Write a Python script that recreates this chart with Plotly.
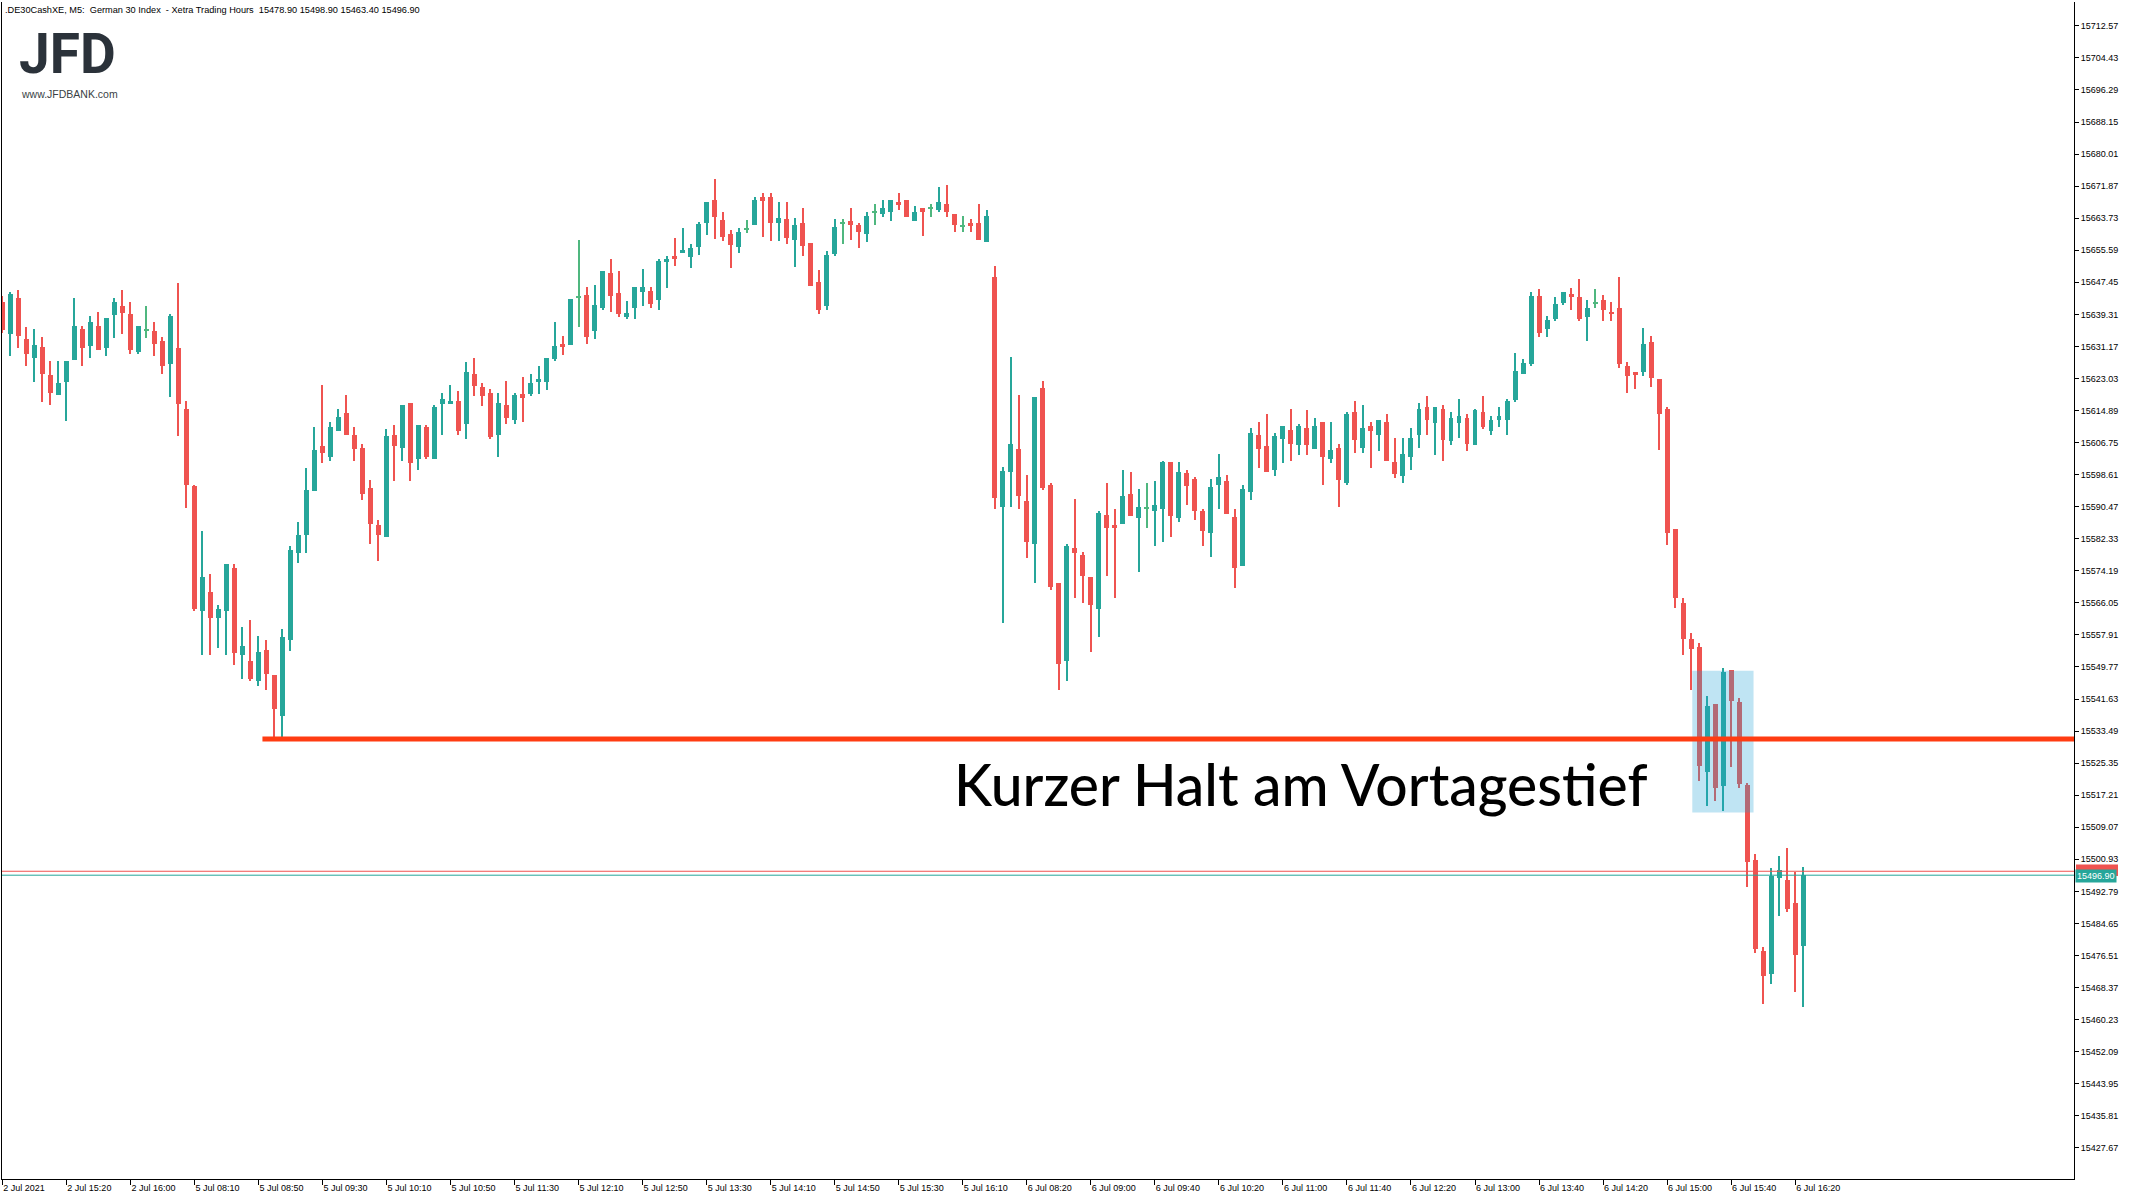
import plotly.graph_objects as go

# ---------------- data (M5 candles, 2 Jul 14:40 .. 6 Jul 16:25) ----------------
opens = [
15642.4,15634.3,15643.4,15633.0,15628.2,15630.9,15623.8,15618.8,15622.1,15627.7,
15635.5,15631.3,15636.3,15630.8,15639.2,15641.4,15639.3,15629.8,15635.4,15635.0,
15632.5,15626.7,15630.7,15615.2,15595.6,15563.9,15568.9,15562.3,15563.9,15575.0,
15552.7,15551.2,15546.1,15554.2,15547.8,15537.4,15556.5,15578.6,15583.4,15594.4,
15605.8,15603.0,15609.8,15614.2,15608.8,15605.3,15595.1,15585.7,15582.9,15608.8,
15605.5,15616.7,15602.5,15610.6,15602.5,15616.5,15616.5,15617.2,15611.4,15624.1,
15620.8,15619.3,15608.6,15616.2,15612.4,15619.2,15619.0,15622.1,15622.1,15627.9,
15631.7,15631.5,15643.7,15644.2,15635.0,15640.9,15649.7,15644.7,15638.6,15640.9,
15644.9,15645.2,15642.9,15652.5,15654.1,15654.8,15653.8,15656.3,15662.5,15668.3,
15663.2,15659.7,15656.3,15661.1,15661.9,15669.1,15669.1,15662.5,15663.4,15658.1,
15662.4,15657.4,15647.6,15641.4,15654.7,15662.4,15662.9,15661.9,15659.7,15665.3,
15664.7,15665.2,15667.9,15668.4,15663.1,15666.4,15666.3,15665.7,15667.4,15664.9,
15661.8,15662.4,15662.4,15657.6,15648.8,15590.5,15599.3,15605.0,15592.0,15581.0,
15620.5,15595.9,15571.0,15551.2,15579.9,15578.3,15572.7,15564.6,15588.3,15585.7,
15586.0,15593.8,15587.5,15590.2,15589.5,15590.0,15601.7,15587.5,15598.9,15597.4,
15589.3,15583.7,15596.1,15596.9,15587.8,15575.5,15594.1,15608.8,15605.8,15599.7,
15607.6,15609.9,15606.1,15610.4,15605.0,15611.9,15602.5,15605.3,15596.6,15614.4,
15605.5,15610.9,15608.6,15611.9,15601.7,15598.2,15603.0,15608.6,15615.7,15611.6,
15615.2,15607.1,15611.6,15612.9,15606.1,15614.4,15609.6,15612.6,15612.6,15617.5,
15624.1,15626.6,15643.9,15635.5,15638.1,15642.3,15644.4,15643.6,15638.7,15642.1,
15642.9,15639.8,15640.9,15626.1,15624.6,15624.6,15632.2,15622.8,15615.2,15584.7,
15565.9,15556.8,15554.9,15523.2,15540.3,15519.6,15549.1,15540.8,15519.7,15500.8,
15477.7,15471.8,15496.1,15495.6,15489.8,15478.9,
]
highs = [
15644.0,15644.9,15645.4,15636.0,15635.5,15633.5,15627.4,15627.4,15627.4,15643.4,
15636.3,15638.8,15639.8,15638.3,15643.4,15645.4,15642.4,15636.3,15641.4,15637.3,
15633.5,15639.3,15647.2,15617.2,15596.1,15584.4,15573.5,15565.6,15576.0,15576.0,
15560.0,15561.6,15557.7,15556.7,15547.8,15559.3,15580.6,15586.7,15600.2,15610.6,
15621.3,15612.1,15615.2,15618.8,15610.6,15606.3,15597.2,15587.2,15610.1,15611.1,
15616.2,15616.7,15611.1,15611.1,15616.2,15619.3,15621.3,15619.8,15627.1,15628.2,
15621.8,15620.3,15619.3,15622.3,15619.3,15623.3,15624.1,15626.1,15628.1,15637.3,
15633.7,15643.1,15658.1,15646.2,15646.7,15650.3,15653.3,15650.3,15642.6,15646.2,
15650.8,15646.2,15653.3,15654.1,15658.6,15661.2,15657.1,15662.7,15667.8,15673.6,
15665.2,15660.7,15661.2,15663.2,15669.1,15670.1,15670.1,15667.8,15667.9,15663.9,
15666.4,15657.4,15650.6,15655.3,15663.4,15663.4,15666.4,15662.4,15665.4,15667.4,
15668.4,15668.4,15670.2,15668.4,15666.9,15666.4,15667.4,15671.7,15672.2,15664.9,
15664.4,15663.4,15667.4,15665.9,15651.6,15600.5,15628.6,15618.8,15598.5,15618.4,
15622.3,15596.4,15571.0,15580.9,15592.3,15578.9,15572.7,15589.3,15596.4,15589.8,
15599.9,15599.4,15594.9,15596.4,15596.9,15602.2,15601.7,15601.7,15599.9,15597.9,
15589.8,15597.4,15603.8,15598.4,15589.8,15595.9,15610.4,15611.9,15613.9,15609.3,
15610.9,15615.2,15611.4,15614.9,15612.9,15611.9,15611.9,15606.3,15614.4,15617.2,
15616.2,15611.9,15612.4,15613.9,15607.8,15607.8,15610.4,15616.7,15618.7,15615.7,
15616.2,15614.4,15617.7,15613.9,15615.2,15618.7,15613.4,15615.7,15617.7,15629.4,
15627.9,15644.9,15645.7,15638.8,15643.6,15644.9,15646.1,15648.3,15642.9,15645.7,
15644.1,15642.4,15648.9,15627.3,15624.6,15635.8,15633.7,15622.8,15615.7,15584.7,
15567.4,15558.4,15555.9,15542.3,15540.3,15549.6,15549.1,15541.8,15520.2,15502.3,
15478.7,15498.7,15501.9,15503.9,15497.7,15498.9,
]
lows = [
15634.5,15628.7,15630.8,15626.2,15622.1,15617.0,15616.3,15618.8,15612.2,15627.7,
15626.2,15628.2,15630.3,15628.7,15633.3,15634.3,15629.2,15629.2,15633.3,15628.7,
15624.2,15618.3,15608.4,15590.1,15563.9,15552.7,15552.7,15554.7,15552.7,15550.4,
15546.8,15546.3,15545.0,15544.0,15532.1,15532.1,15553.9,15576.1,15578.8,15594.4,
15601.5,15602.0,15609.8,15608.6,15602.0,15592.1,15580.9,15576.8,15582.9,15596.9,
15602.0,15596.9,15599.9,15602.5,15602.5,15608.6,15616.5,15608.6,15607.6,15618.5,
15616.0,15607.6,15603.0,15611.4,15611.4,15611.9,15618.5,15619.0,15620.0,15627.4,
15628.9,15631.5,15636.0,15631.9,15633.0,15640.3,15639.8,15638.6,15638.1,15638.1,
15641.4,15640.9,15640.3,15645.9,15651.5,15654.8,15651.0,15654.3,15659.4,15658.4,
15657.9,15651.0,15654.8,15659.9,15661.9,15658.9,15657.9,15657.9,15657.1,15651.4,
15654.1,15646.4,15639.3,15640.3,15654.1,15657.1,15658.1,15656.1,15657.6,15662.1,
15664.1,15663.1,15665.7,15664.1,15663.1,15659.1,15664.1,15665.2,15664.1,15660.2,
15660.2,15660.2,15658.1,15657.6,15590.0,15561.0,15590.5,15590.0,15577.5,15571.0,
15594.7,15569.2,15543.8,15546.1,15567.2,15566.1,15553.7,15557.5,15573.0,15567.2,
15586.0,15588.0,15574.0,15585.0,15580.6,15581.6,15582.7,15586.5,15591.0,15587.0,
15580.6,15577.6,15590.0,15588.5,15569.7,15575.5,15592.1,15600.4,15599.2,15598.2,
15601.5,15602.0,15603.5,15603.5,15605.0,15596.1,15601.5,15590.5,15596.1,15604.0,
15604.0,15600.4,15604.5,15602.0,15597.7,15596.6,15599.9,15605.5,15608.6,15603.5,
15602.0,15606.1,15608.0,15604.5,15606.1,15610.1,15608.6,15610.6,15608.6,15617.0,
15624.1,15626.1,15633.5,15633.5,15637.6,15641.8,15640.3,15637.7,15632.6,15640.8,
15637.7,15637.7,15625.7,15619.4,15620.3,15623.6,15620.9,15604.8,15580.7,15564.7,
15552.7,15544.0,15520.9,15514.4,15515.7,15513.3,15524.3,15519.1,15493.8,15477.1,
15464.1,15469.3,15486.6,15487.6,15467.3,15463.4,
]
closes = [
15635.3,15644.4,15633.8,15629.3,15631.5,15624.2,15619.3,15621.8,15627.4,15636.3,
15630.8,15637.3,15630.3,15638.3,15642.4,15639.7,15630.3,15636.3,15635.4,15631.8,
15626.2,15638.8,15616.5,15596.0,15564.4,15572.5,15562.3,15564.6,15576.0,15553.2,
15555.0,15546.8,15553.7,15548.1,15539.0,15557.3,15579.6,15583.2,15594.6,15604.8,
15604.0,15610.6,15613.2,15608.8,15605.0,15593.8,15586.0,15583.4,15608.3,15606.0,
15616.2,15601.5,15611.1,15603.0,15615.7,15617.7,15617.2,15609.8,15624.6,15621.0,
15618.5,15608.1,15616.7,15612.9,15618.8,15618.0,15621.8,15622.8,15628.1,15631.2,
15630.9,15643.1,15643.7,15633.5,15641.6,15650.3,15643.9,15639.3,15639.6,15646.2,
15646.2,15641.9,15652.8,15653.3,15653.6,15655.6,15656.1,15662.2,15667.8,15664.0,
15658.9,15656.9,15660.2,15661.1,15668.3,15668.0,15662.5,15663.7,15658.6,15661.9,
15656.6,15646.4,15640.3,15654.4,15661.4,15662.4,15662.1,15660.2,15664.4,15665.3,
15666.4,15668.4,15667.1,15664.1,15665.4,15665.2,15666.3,15667.9,15665.2,15662.1,
15661.8,15661.7,15658.1,15664.4,15592.8,15599.5,15606.5,15593.3,15581.5,15618.4,
15595.2,15570.2,15550.6,15580.4,15578.6,15573.0,15565.6,15588.8,15585.0,15585.0,
15593.3,15588.0,15590.3,15590.2,15590.8,15601.7,15588.0,15599.4,15595.6,15589.5,
15584.2,15595.4,15597.9,15588.5,15575.0,15594.9,15609.3,15605.0,15599.2,15608.3,
15610.9,15606.5,15610.9,15606.1,15610.9,15603.0,15604.8,15597.2,15613.9,15607.5,
15610.4,15609.6,15612.4,15602.0,15598.7,15603.8,15607.8,15615.2,15612.6,15615.7,
15607.5,15612.9,15613.4,15606.5,15614.9,15610.6,15612.4,15613.4,15617.2,15624.8,
15626.9,15643.9,15634.5,15637.8,15641.9,15644.9,15643.9,15638.2,15640.9,15642.1,
15640.3,15639.4,15626.6,15623.6,15624.1,15631.7,15623.1,15614.1,15583.9,15567.3,
15557.0,15554.4,15524.6,15539.8,15519.1,15548.6,15541.2,15520.1,15500.2,15478.1,
15471.3,15496.6,15498.3,15488.3,15476.6,15496.9,
]

tick_positions = list(range(0, 226, 8))
x_tick_labels = [
    "2 Jul 2021", "2 Jul 15:20", "2 Jul 16:00", "5 Jul 08:10", "5 Jul 08:50",
    "5 Jul 09:30", "5 Jul 10:10", "5 Jul 10:50", "5 Jul 11:30", "5 Jul 12:10",
    "5 Jul 12:50", "5 Jul 13:30", "5 Jul 14:10", "5 Jul 14:50", "5 Jul 15:30",
    "5 Jul 16:10", "6 Jul 08:20", "6 Jul 09:00", "6 Jul 09:40", "6 Jul 10:20",
    "6 Jul 11:00", "6 Jul 11:40", "6 Jul 12:20", "6 Jul 13:00", "6 Jul 13:40",
    "6 Jul 14:20", "6 Jul 15:00", "6 Jul 15:40", "6 Jul 16:20",
]
y_tick_labels = [
    "15712.57", "15704.43", "15696.29", "15688.15", "15680.01", "15671.87",
    "15663.73", "15655.59", "15647.45", "15639.31", "15631.17", "15623.03",
    "15614.89", "15606.75", "15598.61", "15590.47", "15582.33", "15574.19",
    "15566.05", "15557.91", "15549.77", "15541.63", "15533.49", "15525.35",
    "15517.21", "15509.07", "15500.93", "15492.79", "15484.65", "15476.51",
    "15468.37", "15460.23", "15452.09", "15443.95", "15435.81", "15427.67",
]

support_level = 15531.5       # Vortagestief
support_start = 32.5          # candle index where the line starts
bid_price = 15496.90
ask_price = 15497.90
zone_x = (211.15, 218.8)
zone_y = (15512.8, 15548.8)

header = (".DE30CashXE, M5:  German 30 Index  - Xetra Trading Hours  "
          "15478.90 15498.90 15463.40 15496.90")
note_text = "Kurzer Halt am Vortagestief"
logo_name = "JFD"
logo_url = "www.JFDBANK.com"

# ---------------- styling ----------------
UP = "#26a69a"
DOWN = "#ef5350"
DOJI = "#4fb77f"
X_RANGE = [-0.04, 258.84]
PLOT_W = 2131 - 2 - 57

idx = list(range(len(opens)))
colors = []
body_base = []
body_h = []
for o, c in zip(opens, closes):
    if c > o:
        colors.append(UP)
    elif c < o:
        colors.append(DOWN)
    else:
        colors.append(DOJI)
    lo, hi = min(o, c), max(o, c)
    if hi - lo < 0.3:
        mid = (hi + lo) / 2
        lo, hi = mid - 0.15, mid + 0.15
    body_base.append(lo)
    body_h.append(hi - lo)

wick_h = [h - l for h, l in zip(highs, lows)]

fig = go.Figure()
fig.add_trace(go.Bar(x=idx, y=wick_h, base=lows, width=0.14,
                     marker=dict(color=colors, line=dict(width=0)),
                     hoverinfo="skip", showlegend=False))
fig.add_trace(go.Bar(x=idx, y=body_h, base=body_base, width=0.62,
                     marker=dict(color=colors, line=dict(width=0)),
                     hoverinfo="skip", showlegend=False))

y_tick_vals = [float(t) for t in y_tick_labels]

shapes = [
    dict(type="line", xref="paper", x0=0, x1=1, yref="y", y0=ask_price, y1=ask_price,
         line=dict(color=DOWN, width=1), layer="above"),
    dict(type="line", xref="paper", x0=0, x1=1, yref="y", y0=bid_price, y1=bid_price,
         line=dict(color=UP, width=1), layer="above"),
    # ask price tag (mostly hidden behind the bid tag, as in MT4)
    dict(type="rect", xref="paper", yref="y", x0=1 + 2 / PLOT_W, x1=1 + 44 / PLOT_W,
         y0=ask_price - 1.2, y1=ask_price + 1.7, fillcolor=DOWN,
         line=dict(width=0), layer="above"),
    dict(type="rect", xref="x", yref="y", x0=zone_x[0], x1=zone_x[1],
         y0=zone_y[0], y1=zone_y[1], fillcolor="rgba(34,162,214,0.29)",
         line=dict(width=0), layer="above"),
    dict(type="line", xref="x", yref="y", x0=support_start, x1=X_RANGE[1],
         y0=support_level, y1=support_level,
         line=dict(color="#ff3c12", width=5), layer="above"),
]

annotations = [
    dict(text=header, xref="paper", yref="paper", x=0, y=1, xanchor="left",
         yanchor="top", xshift=1, yshift=-1, showarrow=False,
         font=dict(family="Liberation Sans, Arial, sans-serif", size=9.2, color="#000")),
    dict(text=logo_name, xref="paper", yref="paper", x=0, y=1, xanchor="left",
         yanchor="top", xshift=15, yshift=-18, showarrow=False,
         font=dict(family="Roboto, Liberation Sans, sans-serif", size=55,
                   color="#2b323a", weight=700)),
    dict(text=logo_url, xref="paper", yref="paper", x=0, y=1, xanchor="left",
         yanchor="top", xshift=17, yshift=-84, showarrow=False,
         font=dict(family="Liberation Sans, Arial, sans-serif", size=10.5,
                   color="#3a3f45")),
    dict(text=note_text, xref="x", yref="y", x=118.6, y=15520.0, xanchor="left",
         yanchor="middle", showarrow=False,
         font=dict(family="Lato, sans-serif", size=57, color="#000", weight=500)),
    dict(text="15496.90", xref="paper", yref="y", x=1, y=bid_price, xanchor="left",
         yanchor="middle", xshift=1, yshift=-1, showarrow=False, bgcolor=UP,
         borderpad=1, font=dict(family="Liberation Sans, Arial", size=9, color="#fff")),
]

fig.update_layout(
    width=2131, height=1200,
    margin=dict(l=2, r=57, t=2, b=21),
    paper_bgcolor="white", plot_bgcolor="white",
    barmode="overlay", bargap=0,
    showlegend=False,
    shapes=shapes, annotations=annotations,
    xaxis=dict(range=X_RANGE, showgrid=False, zeroline=False,
               showline=True, linecolor="#000", linewidth=1,
               ticks="outside", ticklen=5, tickcolor="#000",
               tickvals=tick_positions, ticktext=x_tick_labels,
               ticklabelposition="outside right",
               tickfont=dict(family="Liberation Sans, Arial", size=9, color="#000"),
               fixedrange=True),
    yaxis=dict(range=[15419.76, 15718.62], side="right", showgrid=False,
               zeroline=False, showline=True, mirror=True, linecolor="#000",
               linewidth=1, ticks="outside", ticklen=4, tickcolor="#000",
               tickvals=y_tick_vals, ticktext=y_tick_labels,
               tickfont=dict(family="Liberation Sans, Arial", size=9, color="#000"),
               fixedrange=True),
)

fig.write_html(
    "out.html",
    config={"displayModeBar": False},
    post_script=("document.body.style.margin='0px';"
                 "document.body.style.padding='0px';"
                 "document.documentElement.style.overflow='hidden';"),
)
